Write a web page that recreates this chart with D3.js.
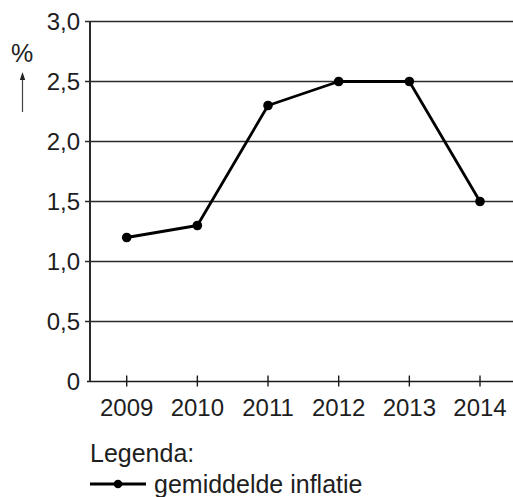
<!DOCTYPE html>
<html>
<head>
<meta charset="utf-8">
<script src="https://cdn.jsdelivr.net/npm/d3@7"></script>
<style>
  html, body { margin: 0; padding: 0; background: #fff; }
  svg { display: block; }
  text { font-family: "Liberation Sans", Arial, sans-serif; fill: #1e1e1e; }
</style>
</head>
<body>
<svg id="chart" width="513" height="497"></svg>
<script>
const years = [2009, 2010, 2011, 2012, 2013, 2014];
const inflation = [1.2, 1.3, 2.3, 2.5, 2.5, 1.5];
const yTicks = [0, 0.5, 1.0, 1.5, 2.0, 2.5, 3.0];
const yTickLabels = ["0", "0,5", "1,0", "1,5", "2,0", "2,5", "3,0"];
const unitLabel = "%";
const legendTitle = "Legenda:";
const seriesName = "gemiddelde inflatie";

const svg = d3.select("#chart");
const axisX = 90, rightX = 513;
const x = d3.scaleLinear().domain([2009, 2014]).range([126.7, 480]);
const y = d3.scaleLinear().domain([0, 3]).range([381.5, 21.5]);

// gridlines (incl. ticks left of axis)
svg.append("g").selectAll("line").data(yTicks.filter(d => d > 0)).join("line")
  .attr("x1", axisX - 5).attr("x2", rightX)
  .attr("y1", d => y(d)).attr("y2", d => y(d))
  .attr("stroke", "#2a2a2a").attr("stroke-width", 1.3);

// x axis line
svg.append("line").attr("x1", axisX - 3).attr("x2", rightX)
  .attr("y1", y(0)).attr("y2", y(0)).attr("stroke", "#1a1a1a").attr("stroke-width", 1.6);

// y axis line
svg.append("line").attr("x1", axisX).attr("x2", axisX)
  .attr("y1", y(3)).attr("y2", y(0)).attr("stroke", "#2a2a2a").attr("stroke-width", 2);

// x ticks
svg.append("g").selectAll("line").data(years).join("line")
  .attr("x1", d => x(d)).attr("x2", d => x(d))
  .attr("y1", y(0) - 6).attr("y2", y(0) + 5)
  .attr("stroke", "#1a1a1a").attr("stroke-width", 1.4);

// y labels
svg.append("g").selectAll("text").data(yTicks).join("text")
  .attr("x", 80).attr("y", d => y(d)).attr("dy", "0.36em")
  .attr("text-anchor", "end").attr("font-size", 24)
  .text((d, i) => yTickLabels[i]);

// x labels
svg.append("g").selectAll("text").data(years).join("text")
  .attr("x", d => x(d)).attr("y", 416)
  .attr("text-anchor", "middle").attr("font-size", 24)
  .text(d => d);

// unit label + arrow
svg.append("text").attr("x", 22).attr("y", 62).attr("text-anchor", "middle")
  .attr("font-size", 25).text(unitLabel);
svg.append("line").attr("x1", 22.5).attr("x2", 22.5).attr("y1", 112).attr("y2", 78)
  .attr("stroke", "#444").attr("stroke-width", 1.2);
svg.append("path").attr("d", "M22.5,72 L19.8,80 L25.2,80 Z").attr("fill", "#222");

// data line
const line = d3.line().x((d, i) => x(years[i])).y(d => y(d));
svg.append("path").datum(inflation).attr("d", line)
  .attr("fill", "none").attr("stroke", "#000").attr("stroke-width", 2.8)
  .attr("stroke-linejoin", "round");
svg.append("g").selectAll("circle").data(inflation).join("circle")
  .attr("cx", (d, i) => x(years[i])).attr("cy", d => y(d)).attr("r", 4.8)
  .attr("fill", "#000");

// legend
svg.append("text").attr("x", 90).attr("y", 461.5).attr("font-size", 25).text(legendTitle);
svg.append("line").attr("x1", 90).attr("x2", 146).attr("y1", 484).attr("y2", 484)
  .attr("stroke", "#000").attr("stroke-width", 2.8);
svg.append("circle").attr("cx", 118).attr("cy", 484).attr("r", 4.3).attr("fill", "#000");
svg.append("text").attr("x", 154).attr("y", 492.5).attr("font-size", 25).text(seriesName);
</script>
</body>
</html>
